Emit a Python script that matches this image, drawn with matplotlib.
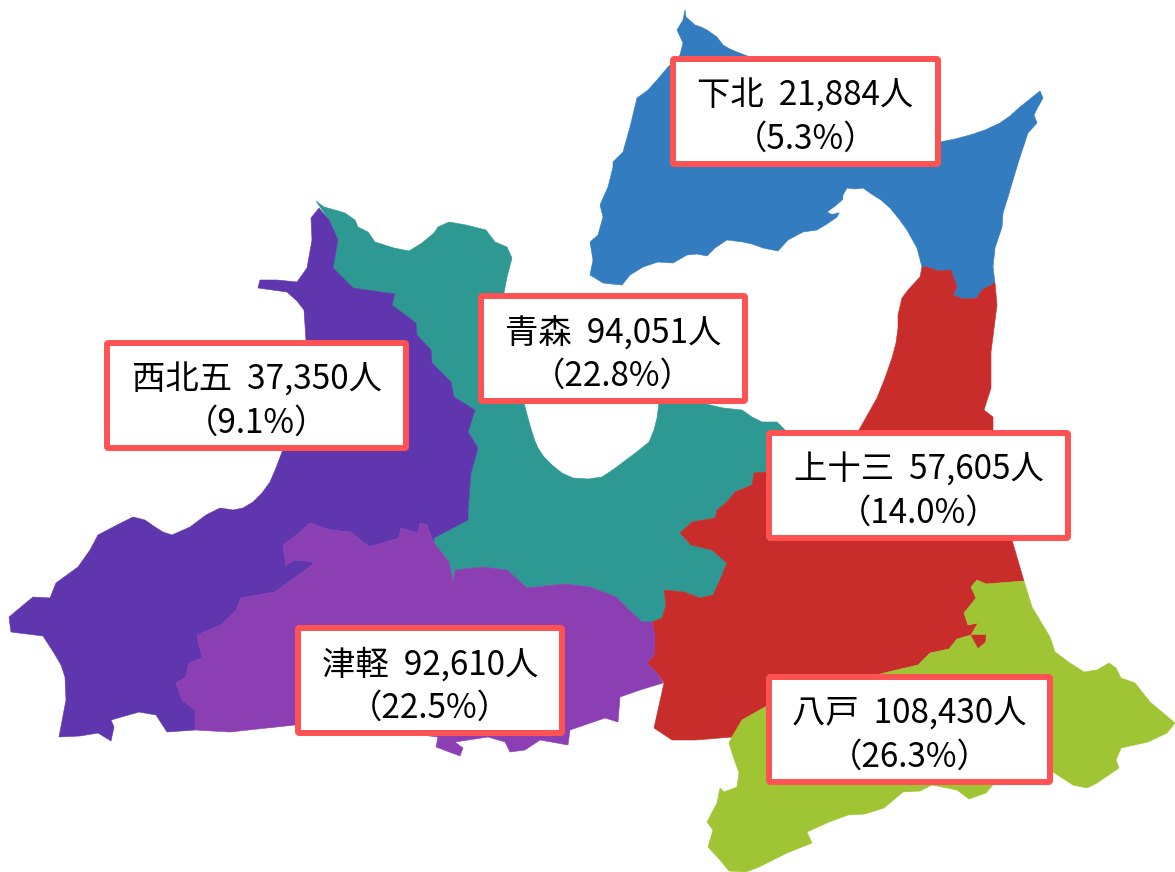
import matplotlib
matplotlib.use('Agg')
import matplotlib.pyplot as plt
from matplotlib.patches import Polygon, FancyBboxPatch

plt.rcParams['font.family'] = ['Noto Sans CJK JP', 'DejaVu Sans']

# region names and values
names = ['下北', '青森', '西北五', '上十三', '津軽', '八戸']
people = ['21,884人', '94,051人', '37,350人', '57,605人', '92,610人', '108,430人']
shares = ['5.3%', '22.8%', '9.1%', '14.0%', '22.5%', '26.3%']
colors = ['#337cbf', '#2e9992', '#5f36ae', '#c82d2b', '#8b3fb3', '#9fc534']

# label boxes: left, top, right, bottom (pixels of the picture)
boxes = [(670, 56, 941, 167), (478, 293, 748, 404), (104, 340, 409, 451),
         (766, 430, 1071, 541), (295, 625, 565, 736), (766, 674, 1053, 785)]

# outlines, in pixels
shimokita = [(685, 10), (686, 17), (695, 25), (701, 27), (707, 30), (717, 37), (723, 45), (730, 49), (737, 52), (750, 57),
             (800, 80), (940, 142), (955, 139), (970, 135), (985, 130), (1000, 123), (1010, 116), (1020, 107),
             (1030, 99), (1040, 91), (1043, 98), (1038, 107), (1034, 115), (1037, 123), (1028, 133), (1024, 145),
             (1020, 157), (1013, 180), (1008, 197), (1003, 213), (1002, 227), (995, 248), (993, 267), (995, 283),
             (982, 290), (977, 298), (963, 299), (953, 295), (957, 287), (951, 270), (938, 271), (927, 267),
             (922, 267), (917, 248), (912, 239), (907, 230), (899, 219), (890, 208), (881, 200), (873, 195),
             (863, 188), (855, 189), (847, 188), (843, 195), (842, 207), (837, 217), (827, 224), (817, 230),
             (803, 232), (788, 240), (778, 251), (763, 248), (752, 244), (743, 242), (727, 240), (715, 248),
             (707, 256), (697, 254), (687, 255), (673, 263), (658, 262), (643, 267), (630, 275), (622, 285),
             (612, 284), (603, 283), (590, 275), (593, 260), (590, 242), (598, 235), (603, 217), (600, 205),
             (608, 187), (613, 167), (613, 162), (623, 152), (630, 127), (637, 98), (648, 90), (657, 80),
             (668, 67), (680, 55), (683, 43), (677, 30), (683, 20)]
lagoon = [(828, 212), (836, 206), (844, 199), (845, 205), (840, 212), (832, 214)]

teal_north = [(316, 201), (324, 207), (335, 210), (345, 213), (355, 220), (358, 227), (368, 232), (375, 242), (394, 248),
              (409, 251), (422, 243), (434, 233), (438, 227), (449, 222), (466, 225), (486, 230), (495, 242),
              (507, 247), (512, 258), (507, 277), (504, 293), (510, 350), (524, 403)]
aomori_bay = [(528, 418), (532, 432), (535, 441), (538, 448), (544, 457), (552, 465), (562, 473), (573, 478),
              (588, 479), (602, 477), (614, 469), (626, 460), (638, 451), (649, 442), (654, 430), (657, 418),
              (659, 403), (690, 400), (723, 408), (742, 410), (752, 417), (762, 422), (777, 422), (785, 430)]
teal_red = [(766, 472), (754, 473), (752, 485), (735, 492), (727, 502), (717, 510), (715, 518), (692, 522),
            (680, 533), (691, 545), (712, 550), (727, 563), (720, 580), (713, 595), (700, 598), (684, 592),
            (664, 590), (666, 605), (662, 618), (652, 622)]
teal_tsugaru = [(642, 622), (629, 610), (616, 597), (590, 587), (564, 584), (527, 588), (507, 570), (483, 567),
                (455, 570), (453, 582), (449, 562), (434, 543)]
teal_nishi = [(434, 538), (468, 520), (468, 510), (471, 473), (478, 448), (468, 432), (475, 410), (454, 397),
              (451, 382), (432, 363), (431, 350), (417, 335), (416, 323), (392, 305), (395, 294), (353, 288),
              (333, 268), (338, 240), (329, 220)]
aomori = teal_north + aomori_bay + [(770, 450)] + teal_red + teal_tsugaru + teal_nishi

nishi_coast = [(319, 208), (311, 218), (312, 240), (307, 268), (297, 282), (277, 280), (260, 280), (258, 288),
               (287, 292), (297, 301), (304, 310), (306, 340), (306, 370), (303, 385), (282, 452), (276, 468),
               (270, 482), (262, 493), (253, 502), (243, 508), (233, 510), (220, 508), (206, 515), (190, 527),
               (172, 535), (163, 532), (155, 527), (145, 520), (133, 517), (125, 521), (117, 525), (98, 535),
               (90, 550), (78, 567), (56, 583), (50, 598), (33, 597), (9, 617), (11, 632), (43, 636), (54, 653),
               (61, 665), (65, 677), (66, 700), (59, 737), (80, 736), (98, 733), (111, 741), (114, 727), (111, 720),
               (139, 712), (156, 715), (167, 732), (195, 730)]
tsugaru_nishi = [(195, 730), (195, 710), (182, 700), (176, 683), (186, 677), (189, 663), (202, 658), (197, 635),
                 (221, 625), (236, 610), (241, 598), (275, 592), (312, 565), (314, 562), (295, 560), (286, 565),
                 (283, 545), (299, 533), (310, 523), (330, 530), (351, 532), (369, 547), (399, 538), (401, 528),
                 (418, 533), (420, 523), (427, 525), (434, 543)]
nishikita = nishi_coast + tsugaru_nishi[1:] + teal_nishi

tsugaru_south = [(230, 732), (295, 725), (380, 730), (438, 737), (436, 747), (460, 756), (463, 748), (455, 742),
                 (488, 737), (505, 742), (510, 752), (525, 750), (540, 740), (568, 745), (570, 730), (605, 718),
                 (618, 722), (620, 697), (640, 690), (663, 683)]
tsugaru_east = [(657, 673), (647, 663), (654, 655), (655, 637), (652, 622)]
tsugaru = tsugaru_nishi + teal_tsugaru[::-1] + tsugaru_east[::-1] + tsugaru_south[::-1]

red_north = [(859, 430), (868, 414), (877, 398), (885, 378), (892, 358), (896, 343), (898, 328), (898, 315), (902, 298),
             (908, 290), (920, 277), (922, 267), (927, 267), (938, 271), (951, 270), (957, 287), (953, 295), (963, 299),
             (977, 298), (982, 290), (995, 283), (997, 305), (991, 352), (991, 388), (984, 410), (993, 417), (993, 430),
             (1012, 540), (1024, 581)]
red_green = [(986, 584), (977, 580), (971, 587), (976, 598), (964, 613), (968, 625), (978, 623), (971, 635),
             (957, 639), (949, 649), (930, 653), (918, 665), (884, 673), (820, 690), (765, 707), (742, 720), (732, 737)]
red_south = [(696, 740), (672, 740), (654, 728), (664, 683)]
kamikita = red_north + red_green + red_south + tsugaru_east + teal_red[::-1]
red_wedge = [(971, 635), (986, 635), (985, 642), (978, 648)]

green_coast = [(1024, 581), (1028, 594), (1032, 607), (1041, 622), (1050, 637), (1055, 652), (1070, 663), (1084, 672),
               (1097, 670), (1109, 663), (1116, 668), (1121, 678), (1135, 683), (1150, 702), (1162, 712), (1175, 723),
               (1167, 733), (1148, 742), (1121, 748), (1116, 760), (1119, 768), (1097, 783), (1087, 788), (1073, 785),
               (1053, 772), (1020, 775), (993, 785), (986, 793), (969, 799), (957, 790), (932, 785), (920, 791),
               (903, 792), (884, 808), (865, 814), (848, 815), (829, 822), (807, 832), (812, 843), (787, 853),
               (759, 867), (746, 872), (729, 871), (720, 860), (708, 847), (713, 830), (707, 822), (717, 803),
               (720, 788), (724, 792), (737, 787), (739, 773), (732, 753), (729, 743)]
hachinohe = green_coast + red_green[::-1]

regions = [shimokita, aomori, nishikita, kamikita, tsugaru, hachinohe]

fig = plt.figure(figsize=(11.75, 8.72), dpi=100)
ax = fig.add_axes([0, 0, 1, 1])
ax.set_xlim(0, 1175)
ax.set_ylim(872, 0)
ax.axis('off')

for outline, color in zip(regions, colors):
    ax.add_patch(Polygon(outline, closed=True, facecolor=color, edgecolor=color, lw=0.4, zorder=2))
ax.add_patch(Polygon(lagoon, closed=True, facecolor='white', edgecolor='white', lw=0.3, zorder=3))
ax.add_patch(Polygon(red_wedge, closed=True, facecolor=colors[3], edgecolor=colors[3], lw=0.3, zorder=3))

for name, num, share, (x0, y0, x1, y1) in zip(names, people, shares, boxes):
    # border is about 6px thick, so pull the box in by half of that
    ax.add_patch(FancyBboxPatch((x0 + 3, y0 + 3), x1 - x0 - 6, y1 - y0 - 6,
                                boxstyle='round,pad=0,rounding_size=1.5',
                                facecolor='white', edgecolor='#ff5252', lw=4.3, zorder=5))
    cx = (x0 + x1) / 2
    ax.text(cx, y0 + 40, f'{name}  {num}', ha='center', va='center', fontsize=24, color='black', zorder=6)
    ax.text(cx, y0 + 83, f'（{share}）', ha='center', va='center', fontsize=24, color='black', zorder=6)

fig.savefig('out.png', dpi=100, facecolor='white')
